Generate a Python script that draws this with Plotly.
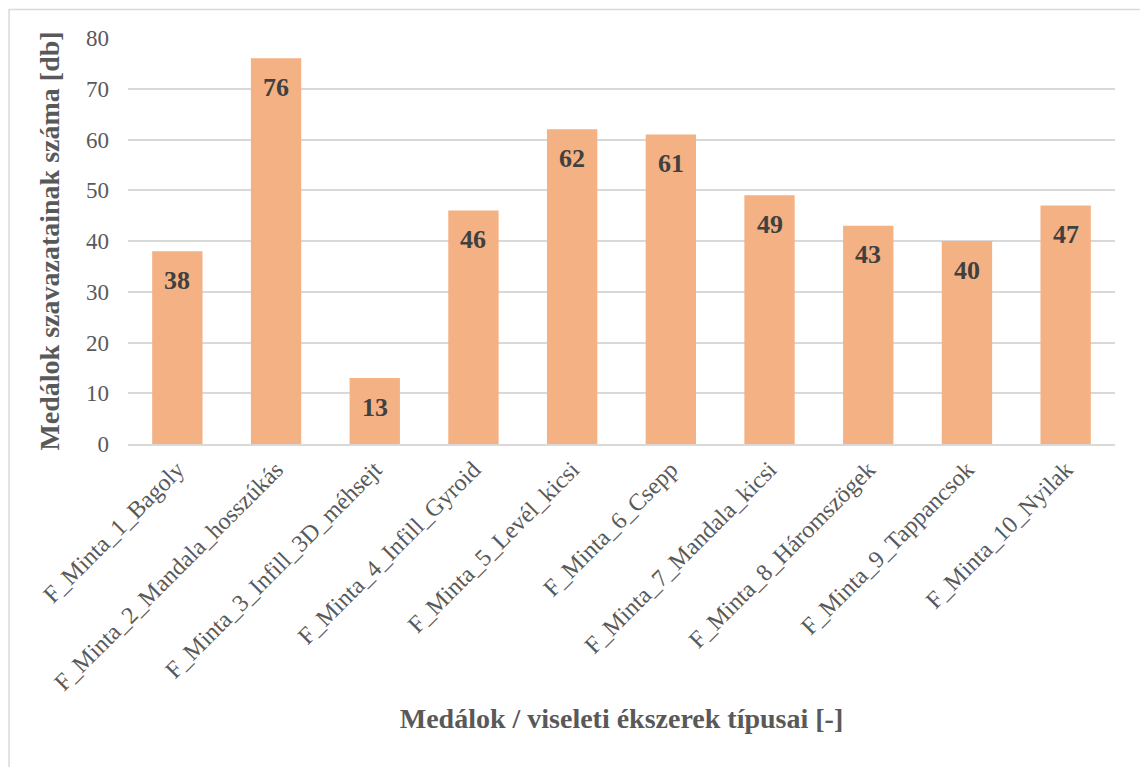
import plotly.graph_objects as go

categories = [
    "F_Minta_1_Bagoly",
    "F_Minta_2_Mandala_hosszúkás",
    "F_Minta_3_Infill_3D_méhsejt",
    "F_Minta_4_Infill_Gyroid",
    "F_Minta_5_Levél_kicsi",
    "F_Minta_6_Csepp",
    "F_Minta_7_Mandala_kicsi",
    "F_Minta_8_Háromszögek",
    "F_Minta_9_Tappancsok",
    "F_Minta_10_Nyilak",
]
votes = [38, 76, 13, 46, 62, 61, 49, 43, 40, 47]
y_ticks = [0, 10, 20, 30, 40, 50, 60, 70, 80]

SERIF = "Liberation Serif, Times New Roman, serif"
GREY = "#595959"

fig = go.Figure(
    go.Bar(
        x=categories,
        y=votes,
        marker=dict(color="#F4B183", line=dict(width=0)),
        hoverinfo="x+y",
    )
)

# Value labels placed just inside the top of each bar
for cat, v in zip(categories, votes):
    fig.add_annotation(
        x=cat,
        y=v,
        text=f"<b>{v}</b>",
        showarrow=False,
        yanchor="middle",
        yshift=-29,
        font=dict(family=SERIF, size=26, color="#404040"),
    )

fig.update_layout(
    width=1140,
    height=767,
    margin=dict(l=128, r=25, t=38, b=323),
    paper_bgcolor="white",
    plot_bgcolor="white",
    bargap=0.49,
    showlegend=False,
    font=dict(family=SERIF, color=GREY),
)

fig.update_xaxes(
    tickangle=-45,
    tickfont=dict(family=SERIF, size=24, color=GREY),
    showgrid=False,
    showline=True,
    linecolor="#D9D9D9",
    linewidth=2,
    ticks="",
    title=dict(
        text="Medálok / viseleti ékszerek típusai [-]",
        font=dict(family=SERIF, size=28, color=GREY, weight="bold"),
        standoff=14,
    ),
)

fig.update_yaxes(
    range=[0, 80],
    tickvals=y_ticks,
    tickfont=dict(family=SERIF, size=23, color=GREY),
    showgrid=True,
    gridcolor="#D9D9D9",
    gridwidth=1.5,
    zeroline=False,
    showline=False,
    ticks="",
    ticklabelstandoff=18,
    title=dict(
        text="Medálok szavazatainak száma [db]",
        font=dict(family=SERIF, size=28, color=GREY, weight="bold"),
        standoff=18,
    ),
)

# Light frame around the whole chart area
fig.add_shape(
    type="rect",
    xref="paper",
    yref="paper",
    x0=-0.1205,
    x1=1.05,
    y0=-0.85,
    y1=1.0702,
    line=dict(color="#D9D9D9", width=1.5),
    fillcolor="rgba(0,0,0,0)",
    layer="below",
)

fig.write_html("out.html")
